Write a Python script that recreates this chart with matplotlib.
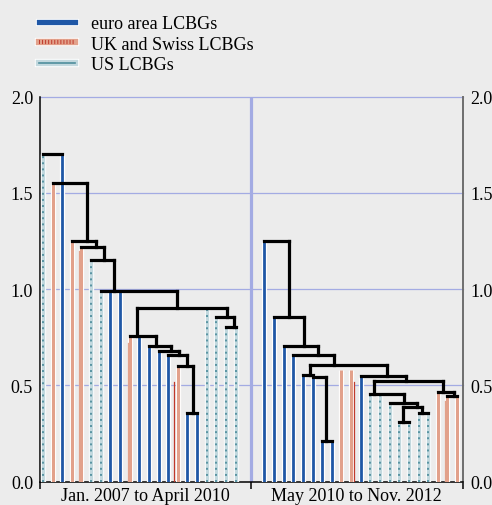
import matplotlib
matplotlib.use('Agg')
import matplotlib.pyplot as plt
import numpy as np
from matplotlib.lines import Line2D
from matplotlib.legend_handler import HandlerTuple
import matplotlib.patheffects as pe

plt.rcParams['font.family'] = ['Liberation Serif', 'DejaVu Serif']
plt.rcParams['lines.scale_dashes'] = False

# ---------------- data ----------------
period_labels = ['Jan. 2007 to April 2010', 'May 2010 to Nov. 2012']
legend_labels = ['euro area LCBGs', 'UK and Swiss LCBGs', 'US LCBGs']
y_ticks = [0.0, 0.5, 1.0, 1.5, 2.0]

# left panel leaves (group, merge height)
left_groups = ['US', 'UK', 'EA', 'UK', 'UK', 'US', 'US', 'EA', 'EA', 'UK', 'EA',
               'EA', 'EA', 'EA', 'UK', 'EA', 'EA', 'US', 'US', 'US', 'US']
left_heights = [1.702, 1.551, 1.702, 1.250, 1.219, 1.151, 0.990, 0.990, 0.990, 0.758, 0.758,
                0.703, 0.680, 0.659, 0.602, 0.354, 0.354, 0.902, 0.855, 0.803, 0.803]
left_start = 0.3
# horizontal links (x_from, x_to, height) in leaf units
left_links = [(0.3, 2.3, 1.702), (1.3, 4.88, 1.551), (3.3, 5.81, 1.250), (4.3, 6.64, 1.219),
              (5.3, 7.68, 1.151), (6.3, 14.2, 0.990), (10.06, 19.4, 0.902), (18.3, 20.1, 0.855),
              (19.3, 20.3, 0.803), (9.3, 12.03, 0.758), (11.3, 13.6, 0.703), (12.3, 14.4, 0.680),
              (13.3, 15.25, 0.659), (14.3, 15.87, 0.602), (15.3, 16.3, 0.354)]
# vertical drops (x, from height, to height)
left_drops = [(4.88, 1.551, 1.250), (5.81, 1.250, 1.219), (6.64, 1.219, 1.151),
              (7.68, 1.151, 0.990), (14.2, 0.990, 0.902), (10.06, 0.902, 0.758),
              (19.4, 0.902, 0.855), (20.1, 0.855, 0.803), (12.03, 0.758, 0.703),
              (13.6, 0.703, 0.680), (14.4, 0.680, 0.659), (15.25, 0.659, 0.602),
              (15.87, 0.602, 0.354)]
left_thin = [(4.0, 1.20, 'UK'), (9.1, 0.72, 'UK'), (13.9, 0.519, 'RED')]

# right panel
right_groups = ['EA', 'EA', 'EA', 'EA', 'EA', 'EA', 'EA', 'EA', 'UK', 'UK', 'EA',
                'US', 'US', 'US', 'US', 'US', 'US', 'US', 'UK', 'UK', 'UK']
right_heights = [1.248, 0.853, 0.703, 0.656, 0.553, 0.553, 0.209, 0.209, 0.578, 0.578, 0.547,
                 0.455, 0.455, 0.408, 0.308, 0.308, 0.356, 0.356, 0.464, 0.443, 0.443]
right_start = 23.27
right_links = [(23.27, 25.86, 1.248), (24.27, 27.42, 0.853), (25.27, 28.81, 0.703),
               (26.27, 30.53, 0.656), (28.01, 35.96, 0.604), (27.27, 28.27, 0.553),
               (28.27, 29.67, 0.541), (29.27, 30.27, 0.209), (33.27, 37.97, 0.547),
               (34.65, 41.77, 0.520), (34.27, 37.79, 0.455), (36.27, 39.08, 0.408),
               (37.69, 39.60, 0.386), (37.27, 38.27, 0.308), (39.27, 40.27, 0.356),
               (41.27, 42.98, 0.464), (42.27, 43.27, 0.443)]
right_drops = [(25.86, 1.248, 0.853), (27.42, 0.853, 0.703), (28.81, 0.703, 0.656),
               (30.53, 0.656, 0.604), (28.01, 0.604, 0.553), (35.96, 0.604, 0.547),
               (29.67, 0.541, 0.209), (37.97, 0.547, 0.520), (34.65, 0.520, 0.455),
               (41.77, 0.520, 0.464), (37.79, 0.455, 0.408), (39.08, 0.408, 0.386),
               (37.69, 0.386, 0.308), (39.60, 0.386, 0.356), (42.98, 0.464, 0.443)]
right_thin = [(32.6, 0.516, 'RED'), (42.05, 0.42, 'UK')]

panel_edges = [0.0, 21.84, 43.88]

# ---------------- style ----------------
BG = '#ececec'
GRID = '#a3abe3'
EA_C = '#1f57a6'
UK_C = '#e2a18b'
RED_C = '#c0392b'
US_L = '#c2d8de'
US_D = '#4f8e9d'

fig = plt.figure(figsize=(4.92, 5.06), dpi=100, facecolor=BG)
ax = fig.add_axes([40 / 492, 23.5 / 506, 423 / 492, 384.8 / 506])
ax.set_facecolor(BG)
ax.set_xlim(panel_edges[0], panel_edges[-1])
ax.set_ylim(0, 2.0)

for yv in y_ticks[1:]:
    ax.axhline(yv, color=GRID, lw=0.9, zorder=1, clip_on=False)
ax.axvline(panel_edges[1], color=GRID, lw=2.3, zorder=1)

halo = [pe.Stroke(linewidth=3.8, foreground='white'), pe.Normal()]


def draw_leaves(start, groups, heights):
    for i, (g, h) in enumerate(zip(groups, heights)):
        x = start + i
        if g == 'EA':
            ax.plot([x, x], [0, h], color=EA_C, lw=2.0, solid_capstyle='butt',
                    path_effects=halo, zorder=3)
        elif g == 'UK':
            ax.plot([x, x], [0, h], color=UK_C, lw=2.2, solid_capstyle='butt',
                    path_effects=halo, zorder=3)
        else:
            ax.plot([x, x], [0, h], color=US_L, lw=2.4, solid_capstyle='butt',
                    path_effects=halo, zorder=3)
            ax.plot([x, x], [0, h], color=US_D, lw=1.3, dashes=(1.4, 3.0), zorder=3.5)


def draw_tree(links, drops, thin):
    for x0, x1, h in links:
        ax.plot([x0, x1], [h, h], color='black', lw=2.3, solid_capstyle='projecting', zorder=5)
    for x, a, b in drops:
        ax.plot([x, x], [a, b], color='black', lw=2.3, solid_capstyle='projecting', zorder=5)
    for x, h, k in thin:
        ax.plot([x, x], [0, h], color=RED_C if k == 'RED' else UK_C, lw=0.9, zorder=3.2)


draw_leaves(left_start, left_groups, left_heights)
draw_leaves(right_start, right_groups, right_heights)
draw_tree(left_links, left_drops, left_thin)
draw_tree(right_links, right_drops, right_thin)

# axes styling
ax.spines['top'].set_visible(False)
ax.spines['left'].set_color('black')
ax.spines['left'].set_linewidth(1.1)
ax.spines['bottom'].set_color('black')
ax.spines['bottom'].set_linewidth(1.1)
ax.spines['right'].set_color('#6e6e6e')
ax.spines['right'].set_linewidth(1.4)

ax.set_yticks(y_ticks)
ax.set_yticklabels([f'{v:.1f}' for v in y_ticks])
ax.tick_params(axis='y', length=0, labelsize=13, pad=5, labelright=True, labelleft=True)

centers = [(panel_edges[0] + panel_edges[1]) / 2, (panel_edges[1] + panel_edges[2]) / 2]
ax.set_xticks(centers)
ax.set_xticklabels(period_labels)
ax.tick_params(axis='x', which='major', length=0, labelsize=13, pad=4)
ax.set_xticks(panel_edges, minor=True)
ax.tick_params(axis='x', which='minor', length=5, width=1.1, color='black', direction='out')

# legend
h_ea = (Line2D([], [], color='white', lw=5.2), Line2D([], [], color=EA_C, lw=3.8))
h_uk = (Line2D([], [], color='white', lw=6.0), Line2D([], [], color=UK_C, lw=4.6),
        Line2D([], [], color=RED_C, lw=3.0, dashes=(0.7, 1.5)))
h_us = (Line2D([], [], color='white', lw=6.0), Line2D([], [], color=US_L, lw=4.6),
        Line2D([], [], color=US_D, lw=1.2))
fig.legend([h_ea, h_uk, h_us], legend_labels,
           handler_map={tuple: HandlerTuple(ndivide=1, pad=0)},
           loc='upper left', bbox_to_anchor=(39 / 492, 1 - 16 / 506), frameon=False,
           fontsize=13, handlelength=2.0, handletextpad=0.9, labelspacing=0.2,
           borderpad=0, borderaxespad=0)

fig.savefig('out.png', dpi=100, facecolor=BG)
